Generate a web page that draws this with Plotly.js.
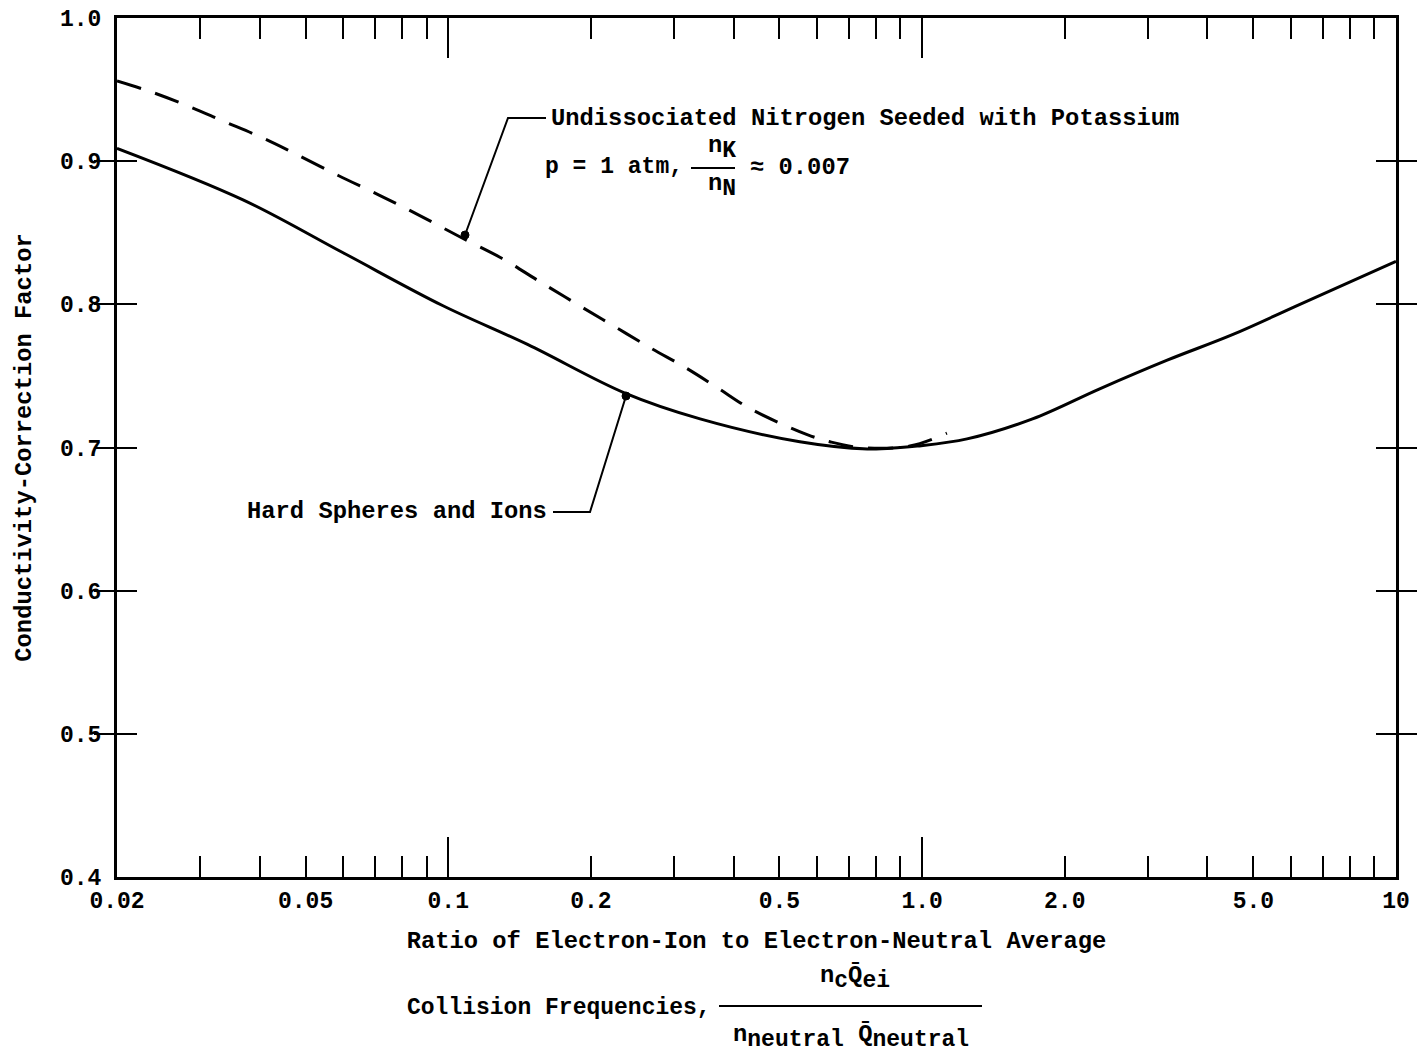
<!DOCTYPE html>
<html>
<head>
<meta charset="utf-8">
<script src="https://cdn.plot.ly/plotly-3.0.1.min.js"></script>
<style>html,body{margin:0;padding:0;background:#fff;}#chart{width:1417px;height:1060px;}</style>
</head>
<body>
<div id="chart"></div>
<script>
// ---- data ----
const solidX = [0.02, 0.0369, 0.060, 0.0975, 0.147, 0.236, 0.340, 0.552, 0.766, 0.898, 0.976, 1.244, 1.71, 2.37, 3.29, 4.53, 6.27, 10];
const solidY = [0.909, 0.873, 0.836, 0.799, 0.772, 0.738, 0.720, 0.704, 0.699, 0.700, 0.701, 0.706, 0.720, 0.741, 0.761, 0.779, 0.800, 0.830];

const dashX = [0.02, 0.0238, 0.0285, 0.0335, 0.0401, 0.047, 0.0586, 0.0718, 0.0871, 0.106, 0.130, 0.154, 0.185, 0.223, 0.269, 0.316, 0.369, 0.429, 0.501, 0.572, 0.639, 0.740, 0.942, 1.128];
const dashY = [0.956, 0.948, 0.938, 0.928, 0.917, 0.906, 0.890, 0.876, 0.862, 0.847, 0.832, 0.817, 0.801, 0.785, 0.769, 0.756, 0.742, 0.728, 0.717, 0.709, 0.704, 0.700, 0.701, 0.710];

const xLabelVals = [0.02, 0.05, 0.1, 0.2, 0.5, 1, 2, 5, 10];
const xLabelText = ['0.02', '0.05', '0.1', '0.2', '0.5', '1.0', '2.0', '5.0', '10'];
const xShortTicks = [0.03, 0.04, 0.05, 0.06, 0.07, 0.08, 0.09, 0.2, 0.3, 0.4, 0.5, 0.6, 0.7, 0.8, 0.9, 2, 3, 4, 5, 6, 7, 8, 9];
const xLongTicks = [0.1, 1];
const yTickVals = [0.4, 0.5, 0.6, 0.7, 0.8, 0.9, 1.0];
const yTickText = ['0.4', '0.5', '0.6', '0.7', '0.8', '0.9', '1.0'];

// ---- layout helpers (pixel -> paper) ----
const L = 117, R = 1396, T = 18, B = 877;
const px = x => (x - L) / (R - L);
const py = y => (B - y) / (B - T);

const FONT = 'Liberation Mono, Courier New, monospace';
const tf = {family: FONT, size: 23.8, color: '#000', weight: 'bold'};
const tf23 = {family: FONT, size: 23, color: '#000', weight: 'bold'};
const tickf = {family: FONT, size: 23, color: '#000', weight: 'bold'};

const traces = [
  {x: solidX, y: solidY, type: 'scatter', mode: 'lines', name: 'Hard Spheres and Ions',
   line: {color: '#000', width: 3, shape: 'spline', smoothing: 1}, hoverinfo: 'skip'},
  {x: dashX, y: dashY, type: 'scatter', mode: 'lines', name: 'Undissociated Nitrogen Seeded with Potassium',
   line: {color: '#000', width: 3, dash: '25px,15px', shape: 'spline', smoothing: 1}, hoverinfo: 'skip'}
];

function ann(text, x, y, xanchor, extra) {
  return Object.assign({text: text, xref: 'paper', yref: 'paper', x: px(x), y: py(y),
    xanchor: xanchor || 'left', yanchor: 'middle', showarrow: false, font: tf}, extra || {});
}
const big = s => "<span style='font-size:23px'>" + s + "</span>";

const annotations = [
  ann('Undissociated Nitrogen Seeded with Potassium', 549, 119),
  ann('p = 1 atm,', 685, 167, 'right', {font: tf23}),
  ann('n<sub>' + big('K') + '</sub>', 722, 148, 'center'),
  ann('n<sub>' + big('N') + '</sub>', 722, 186, 'center'),
  ann('\u2248 0.007', 748, 167),
  ann('Hard Spheres and Ions', 549, 512, 'right'),
  ann('Collision Frequencies,', 713, 1008, 'right', {font: tf23}),
  ann('n<sub>' + big('c') + '</sub>Q\u0304<sub>' + big('ei') + '</sub>', 855, 978, 'center'),
  ann('n<sub>' + big('neutral') + '</sub> Q\u0304<sub>' + big('neutral') + '</sub>', 851, 1037, 'center')
];

const lineStyle = {color: '#000', width: 2};
const shapes = [
  // leader for dashed curve
  {type: 'path', xref: 'paper', yref: 'paper', line: lineStyle,
   path: 'M' + px(546) + ',' + py(118) + ' L' + px(508) + ',' + py(118) + ' L' + px(465) + ',' + py(235)},
  {type: 'circle', xref: 'paper', yref: 'paper', fillcolor: '#000', line: {color: '#000', width: 1},
   x0: px(461), x1: px(469), y0: py(231), y1: py(239)},
  // leader for solid curve
  {type: 'path', xref: 'paper', yref: 'paper', line: lineStyle,
   path: 'M' + px(553) + ',' + py(512) + ' L' + px(590) + ',' + py(512) + ' L' + px(626) + ',' + py(396)},
  {type: 'circle', xref: 'paper', yref: 'paper', fillcolor: '#000', line: {color: '#000', width: 1},
   x0: px(622), x1: px(630), y0: py(392), y1: py(400)},
  // fraction bars
  {type: 'line', xref: 'paper', yref: 'paper', line: lineStyle, x0: px(691), x1: px(735), y0: py(168), y1: py(168)},
  {type: 'line', xref: 'paper', yref: 'paper', line: lineStyle, x0: px(719), x1: px(982), y0: py(1006), y1: py(1006)}
];

const xr = [Math.log10(0.02), Math.log10(10)];
const layout = {
  width: 1417, height: 1060, autosize: false,
  margin: {l: L, r: 1417 - R, t: T, b: 1060 - B},
  paper_bgcolor: '#fff', plot_bgcolor: '#fff',
  showlegend: false,
  font: tf,
  xaxis: {
    type: 'log', range: xr, tickmode: 'array', tickvals: xLabelVals, ticktext: xLabelText,
    ticks: '', tickfont: tickf, ticklabelstandoff: 0,
    showline: true, linecolor: '#000', linewidth: 3, mirror: 'allticks',
    showgrid: false, zeroline: false,
    minor: {tickmode: 'array', tickvals: xShortTicks, ticks: 'inside', ticklen: 21, tickwidth: 2, tickcolor: '#000', showgrid: false},
    title: {text: 'Ratio of Electron-Ion to Electron-Neutral Average', font: tf, standoff: 18}
  },
  xaxis2: {
    type: 'log', range: xr, overlaying: 'x', anchor: 'y', side: 'bottom',
    tickmode: 'array', tickvals: xLongTicks, ticks: 'inside', ticklen: 40, tickwidth: 2, tickcolor: '#000',
    showticklabels: false, showline: true, linecolor: '#000', linewidth: 3, mirror: 'allticks',
    showgrid: false, zeroline: false
  },
  yaxis: {
    range: [0.4, 1.0], tickmode: 'array', tickvals: yTickVals, ticktext: yTickText,
    ticks: 'inside', ticklen: 20, tickwidth: 2, tickcolor: '#000', tickfont: tickf, ticklabelstandoff: 8,
    showline: true, linecolor: '#000', linewidth: 3, mirror: 'allticks',
    showgrid: false, zeroline: false,
    title: {text: 'Conductivity-Correction Factor', font: tf, standoff: 22}
  },
  annotations: annotations,
  shapes: shapes
};

// invisible point so the overlaid tick axis is drawn
traces.push({x: [0.02], y: [0.4], xaxis: 'x2', yaxis: 'y', mode: 'markers', marker: {opacity: 0}, hoverinfo: 'skip', showlegend: false});

Plotly.newPlot('chart', traces, layout, {staticPlot: true});
</script>
</body>
</html>
